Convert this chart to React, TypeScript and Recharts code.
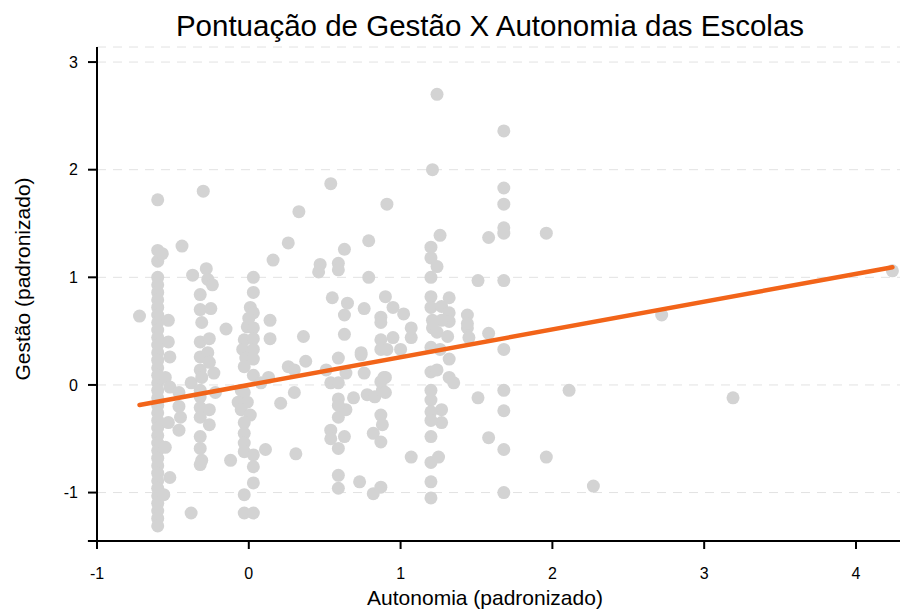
import React from "react";
import {
  CartesianGrid,
  ReferenceLine,
  Scatter,
  ScatterChart,
  XAxis,
  YAxis,
} from "recharts";

type Pt = [number, number];

// main column of schools around autonomy -0.6
const colMainX = -0.6;
const colMainY = [
  1.72, 1.25, 1.15, 1.0, 0.93, 0.86, 0.79, 0.72, 0.65, 0.58, 0.51, 0.44, 0.37,
  0.3, 0.23, 0.16, 0.09, 0.02, -0.05, -0.12, -0.19, -0.26, -0.33, -0.4, -0.47,
  -0.54, -0.61, -0.68, -0.75, -0.82, -0.89, -0.96, -1.03, -1.1, -1.17, -1.24,
  -1.31,
];

const nearMain: Pt[] = [
  [-0.57, 1.22], [-0.44, 1.29], [-0.72, 0.64], [-0.53, 0.6], [-0.53, 0.4],
  [-0.52, 0.26], [-0.55, 0.07], [-0.52, -0.02], [-0.46, -0.07], [-0.46, -0.2],
  [-0.45, -0.3], [-0.46, -0.42], [-0.53, -0.35], [-0.55, -0.58], [-0.52, -0.86],
  [-0.56, -1.02], [-0.38, 0.02], [-0.38, -1.19], [-0.37, 1.02],
];

const colMinus03: Pt[] = [
  [-0.3, 1.8], [-0.28, 1.08], [-0.27, 0.98], [-0.24, 0.93], [-0.32, 0.84],
  [-0.32, 0.7], [-0.25, 0.71], [-0.31, 0.58], [-0.15, 0.52], [-0.32, 0.4],
  [-0.26, 0.43], [-0.32, 0.26], [-0.27, 0.3], [-0.26, 0.21], [-0.23, 0.11],
  [-0.32, 0.14], [-0.31, 0.07], [-0.32, -0.05], [-0.32, -0.11], [-0.22, -0.07],
  [-0.32, -0.21], [-0.26, -0.23], [-0.32, -0.3], [-0.26, -0.37], [-0.32, -0.48],
  [-0.32, -0.59], [-0.31, -0.7], [-0.32, -0.74], [-0.12, -0.7],
];

const colZero: Pt[] = [
  [0.03, 1.0], [0.03, 0.86], [0.01, 0.72], [0.03, 0.67], [0.0, 0.62],
  [-0.01, 0.54], [0.03, 0.53], [-0.03, 0.42], [0.03, 0.43], [-0.04, 0.33],
  [0.03, 0.33], [-0.02, 0.25], [0.03, 0.24], [-0.03, 0.17], [0.03, 0.09],
  [0.08, 0.02], [0.13, 0.07], [0.14, 0.6], [0.14, 0.43], [0.16, 1.16],
  [-0.05, -0.05], [-0.03, -0.07], [-0.07, -0.16], [-0.01, -0.16], [-0.05, -0.23],
  [0.01, -0.28], [-0.03, -0.35], [-0.03, -0.45], [-0.03, -0.54], [-0.03, -0.62],
  [0.03, -0.65], [0.03, -0.76], [0.03, -0.91], [-0.03, -1.02], [-0.03, -1.19],
  [0.03, -1.19], [0.11, -0.6],
];

const middle: Pt[] = [
  [0.31, -0.64], [0.21, -0.17], [0.3, -0.07], [0.26, 0.17], [0.3, 0.14],
  [0.375, 0.22], [0.51, 0.14], [0.59, 0.25], [0.64, 0.11], [0.54, 0.02],
  [0.59, 0.02], [0.59, -0.13], [0.64, -0.23], [0.59, -0.3], [0.54, -0.42],
  [0.54, -0.5], [0.63, -0.48], [0.59, -0.59], [0.69, -0.12], [0.76, 0.11],
  [0.74, 0.28], [0.78, -0.09], [0.83, -0.11], [0.87, -0.28], [0.88, -0.37],
  [0.82, -0.45], [0.87, -0.53], [0.89, 0.07], [0.88, -0.05], [0.59, -0.84],
  [0.59, -0.96], [0.73, -0.9], [0.82, -1.01], [0.87, -0.95], [0.54, 1.87],
  [0.33, 1.61], [0.91, 1.68], [0.26, 1.32], [0.63, 1.26], [0.79, 1.34],
  [0.47, 1.12], [0.46, 1.05], [0.59, 1.13], [0.59, 1.07], [0.79, 1.0],
  [0.55, 0.81], [0.65, 0.76], [0.63, 0.65], [0.76, 0.71], [0.9, 0.82],
  [0.95, 0.72], [1.02, 0.66], [0.87, 0.63], [0.87, 0.58], [0.36, 0.45],
  [0.63, 0.47], [0.87, 0.42], [0.87, 0.33], [0.91, 0.33], [0.95, 0.44],
  [1.07, 0.44], [1.0, 0.33], [0.74, 0.3], [0.9, 0.07], [0.87, 0.03],
  [0.9, -0.07], [0.59, -0.19], [1.07, -0.67], [1.07, 0.53],
];

const colOne: Pt[] = [
  [1.24, 2.7], [1.21, 2.0], [1.26, 1.39], [1.2, 1.28], [1.2, 1.18],
  [1.24, 1.1], [1.2, 1.0], [1.2, 0.82], [1.32, 0.81], [1.2, 0.72],
  [1.27, 0.73], [1.32, 0.67], [1.32, 0.59], [1.44, 0.65], [1.44, 0.53],
  [1.21, 0.6], [1.27, 0.6], [1.21, 0.53], [1.24, 0.49], [1.31, 0.45],
  [1.2, 0.35], [1.26, 0.33], [1.32, 0.24], [1.2, 0.12], [1.24, 0.14],
  [1.32, 0.07], [1.35, 0.02], [1.2, -0.05], [1.2, -0.14], [1.27, -0.23],
  [1.2, -0.25], [1.27, -0.35], [1.2, -0.33], [1.2, -0.48], [1.2, -0.72],
  [1.25, -0.67], [1.2, -0.9], [1.2, -1.05],
];

const rightSide: Pt[] = [
  [1.51, 0.97], [1.68, 0.97], [1.44, 0.57], [1.58, 0.48], [1.68, 0.33],
  [1.45, 0.44], [1.68, -0.05], [1.51, -0.12], [1.68, -0.24], [1.58, -0.49],
  [1.68, -0.6], [1.68, -1.0], [1.68, 2.36], [1.68, 1.83], [1.68, 1.68],
  [1.68, 1.46], [1.68, 1.41], [1.96, 1.41], [1.58, 1.37], [2.11, -0.05],
  [1.96, -0.67], [2.27, -0.94], [2.72, 0.65], [3.19, -0.12], [4.24, 1.06],
];

// fitted line (intercept, slope)
const fitIntercept = 0.0;
const fitSlope = 0.258;

const xTicks = [-1, 0, 1, 2, 3, 4];
const yTicks = [-1, 0, 1, 2, 3];
const xDomain: [number, number] = [-1, 4.29];
const yDomain: [number, number] = [-1.45, 3.14];

const points = [
  ...colMainY.map((y) => [colMainX, y] as Pt),
  ...nearMain,
  ...colMinus03,
  ...colZero,
  ...middle,
  ...colOne,
  ...rightSide,
].map(([x, y]) => ({ x, y }));

const xs = points.map((p) => p.x);
const xMin = Math.min(...xs);
const xMax = Math.max(...xs);
const fitLine = [xMin, xMax].map((x) => ({ x, y: fitIntercept + fitSlope * x }));

const font = "'Liberation Sans', Arial, sans-serif";

const Dot = (props: any) => (
  <circle cx={props.cx} cy={props.cy} r={6.5} fill="#d3d3d3" />
);

export default function App() {
  return (
    <div
      style={{
        position: "absolute",
        left: 0,
        top: 0,
        width: 900,
        height: 610,
        background: "#fff",
        fontFamily: font,
        color: "#000",
        overflow: "hidden",
      }}
    >
      <div
        style={{
          position: "absolute",
          left: 80,
          width: 820,
          top: 11,
          textAlign: "center",
          fontSize: 29.5,
          lineHeight: 1,
        }}
      >
        Pontuação de Gestão X Autonomia das Escolas
      </div>
      <div
        style={{
          position: "absolute",
          left: 70,
          width: 830,
          top: 587,
          textAlign: "center",
          fontSize: 21,
          lineHeight: 1,
        }}
      >
        Autonomia (padronizado)
      </div>
      <div
        style={{
          position: "absolute",
          left: 22,
          top: 279,
          transform: "translate(-50%, -50%) rotate(-90deg)",
          whiteSpace: "nowrap",
          fontSize: 21,
          lineHeight: 1,
        }}
      >
        Gestão (padronizado)
      </div>
      <ScatterChart
        width={900}
        height={610}
        margin={{ top: 47, right: 0, bottom: 0, left: 0 }}
        style={{ fontFamily: font }}
      >
        <CartesianGrid
          vertical={false}
          stroke="#e2e2e2"
          strokeDasharray="9 7"
        />
        <XAxis
          type="number"
          dataKey="x"
          domain={xDomain}
          ticks={xTicks}
          allowDataOverflow
          height={69}
          tickSize={8}
          tickMargin={19}
          stroke="#000"
          strokeWidth={2}
          tick={{ fill: "#000", fontSize: 16 }}
        />
        <YAxis
          type="number"
          dataKey="y"
          domain={yDomain}
          ticks={yTicks}
          allowDataOverflow
          width={97}
          tickSize={9}
          tickMargin={10}
          stroke="#000"
          strokeWidth={2}
          tick={{ fill: "#000", fontSize: 16 }}
        />
        <ReferenceLine
          segment={[
            { x: -1.06, y: yDomain[0] },
            { x: -1, y: yDomain[0] },
          ]}
          stroke="#000"
          strokeWidth={2}
          ifOverflow="visible"
        />
        <ReferenceLine
          segment={[
            { x: -1, y: yDomain[0] },
            { x: -1, y: -1.51 },
          ]}
          stroke="#000"
          strokeWidth={2}
          ifOverflow="visible"
        />
        <Scatter data={points} shape={Dot} isAnimationActive={false} />
        <Scatter
          data={fitLine}
          shape={() => <g />}
          line={{ stroke: "#f26419", strokeWidth: 4.5, strokeLinecap: "round" }}
          isAnimationActive={false}
        />
      </ScatterChart>
    </div>
  );
}
